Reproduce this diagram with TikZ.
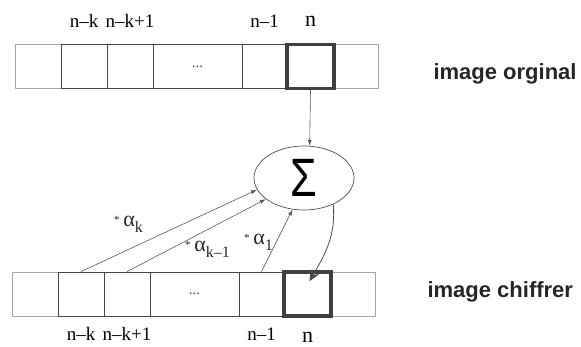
\documentclass[tikz,border=0pt]{standalone}
\usepackage{fontspec}
\usepackage{graphicx}
\setmainfont{Liberation Serif}
\setsansfont{Liberation Sans}
\usetikzlibrary{positioning,shapes.geometric,arrows.meta}

\tikzset{
  cell/.style={draw=black!72, line width=0.8pt, minimum height=44pt, inner sep=0pt},
  sidecell/.style={cell, draw=black!35},
  curcell/.style={cell, draw=black!75, line width=3.5pt},
  idx/.style={font=\fontsize{19}{19}\selectfont, text height=13pt, text depth=0pt},
  coef/.style={font=\fontsize{22}{22}\selectfont, anchor=base west, inner sep=0pt, text=black!85},
  rowname/.style={font=\sffamily\bfseries\fontsize{22}{22}\selectfont, anchor=base west, text=black!85},
  link/.style={draw=black!65, line width=0.6pt, -{Latex[length=6pt,width=4pt]}},
}
\newcommand{\dotsmark}{{\fontsize{15}{15}\selectfont\color{black!70}...}}
\newcommand{\sub}[1]{\raisebox{-6pt}{\fontsize{16}{16}\selectfont #1}}
\newcommand{\mul}{\raisebox{3pt}{\fontsize{11}{11}\selectfont*}\,}

\begin{document}
\begin{tikzpicture}[x=1pt,y=1pt]
  \useasboundingbox (0,0) rectangle (581,347);

  % Draw the two rows of cells (t = original, b = encrypted)
  \foreach \r/\y/\dx in {t/280.5/0, b/53/-3} {
    \foreach \i/\cx/\w/\st in {0/38/46/sidecell, 6/356/44/sidecell,
        1/84/46/cell, 2/130/46/cell, 3/197.5/89/cell, 4/264.5/45/cell,
        5/310.5/47/curcell} {
      \node[\st, minimum width=\w pt] (\r\i) at (\cx+\dx,\y) {\ifnum\i=3 \dotsmark\fi};
    }
  }

  % Index labels
  \node[idx, above=13pt of t1] (tnk) {n–k};
  \node[idx, above=13pt of t2] (tnk1) {n–k+1};
  \node[idx, above=13pt of t4] (tn1) {n–1};
  \node[idx, above=13pt of t5, font=\fontsize{22}{22}\selectfont] (tn) {n};
  \node[idx, below=8pt of b1] (bnk) {n–k};
  \node[idx, below=8pt of b2] (bnk1) {n–k+1};
  \node[idx, below=8pt of b4] (bn1) {n–1};
  \node[idx, below=8pt of b5, font=\fontsize{22}{22}\selectfont] (bn) {n};

  % Sum node
  \node[ellipse, draw=black!70, line width=0.7pt, minimum width=100pt, minimum height=64pt,
    inner sep=0pt] (sum) at (304,169)
    {\sffamily\fontsize{54}{54}\selectfont\scalebox{0.8}[1]{Σ}};

  % Connections
  \draw[link] (t5.south) -- (sum.80);
  \draw[link] (b1.north) -- (sum.194);
  \draw[link] (b2.north) -- (sum.209);
  \draw[link] (b4.north) -- (sum.250);
  \coordinate (bin) at ([shift={(2pt,-11pt)}]b5.north);
  \draw[draw=black!70, line width=0.8pt, -{Stealth[length=11pt,width=10pt]}]
    (sum.-42) to[out=-85,in=60] (bin);

  % Coefficients
  \node[coef] (ak) at (114,120) {\mul α\sub{k}};
  \node[coef] (ak1) at (185,95) {\mul α\sub{k–1}};
  \node[coef] (a1) at (244,102) {\mul α\sub{1}};

  % Row names
  \node[rowname] (orig) at (430,267) {image orginal};
  \node[rowname] (ciph) at (424,49) {image chiffrer};
\end{tikzpicture}
\end{document}
